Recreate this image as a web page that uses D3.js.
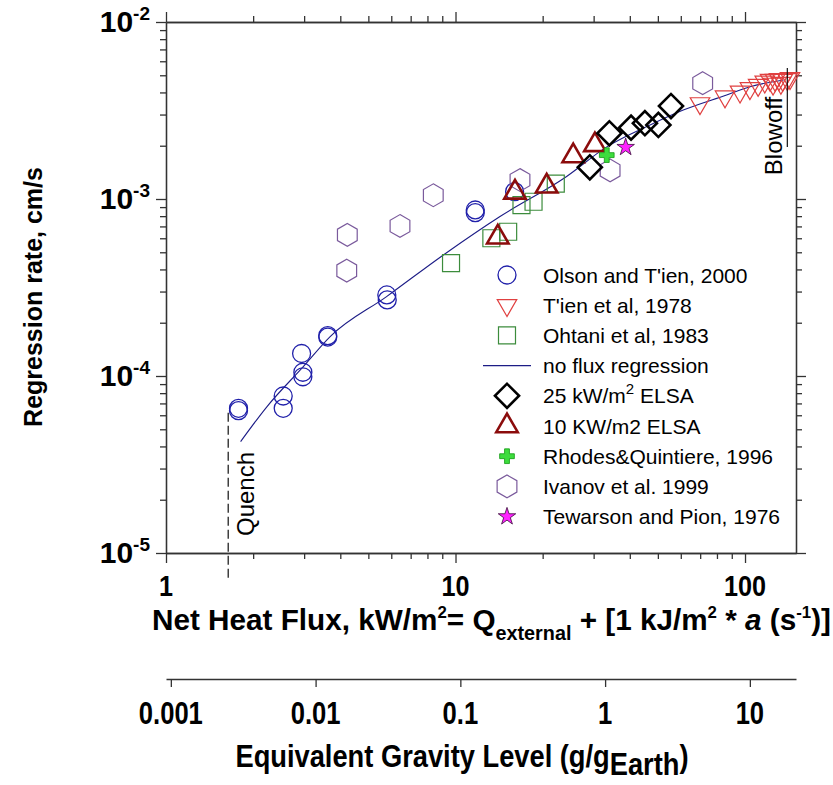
<!DOCTYPE html>
<meta charset="utf-8">
<style>
    body { margin: 0; background: #fff; }
    text { font-family: "Liberation Sans", Arial, sans-serif; }
    .big { font-weight: bold; }
    .axis path, .axis line { stroke: #333; stroke-width: 1.3px; }
</style>
<svg width="833" height="785"></svg>
<script src="https://d3js.org/d3.v7.min.js"></script>
<script>
    // net heat flux (kW/m2) and regression rate (cm/s)
    var olsonFlux = [1.78, 1.78, 2.54, 2.54, 2.94, 2.97, 2.97, 3.62, 3.62, 5.79, 5.81, 11.7, 11.7, 16.0];
    var olsonRate = [6.57e-5, 6.37e-5, 7.71e-5, 6.57e-5, 1.34e-4, 1.05e-4, 9.9e-5, 1.69e-4, 1.66e-4, 2.87e-4, 2.69e-4, 8.67e-4, 8.37e-4, 1.10e-3];

    var tienFlux = [69.9, 85.3, 96.1, 104, 111, 117, 122, 125, 127, 131, 133, 135, 140, 143];
    var tienRate = [3.47e-3, 3.79e-3, 4.04e-3, 4.22e-3, 4.40e-3, 4.60e-3, 4.70e-3, 4.47e-3, 4.70e-3, 4.75e-3, 4.52e-3, 4.70e-3, 4.75e-3, 4.81e-3];

    var ohtaniFlux = [9.65, 13.3, 15.2, 16.9, 18.6, 22.2];
    var ohtaniRate = [4.34e-4, 6.0e-4, 6.53e-4, 9.24e-4, 9.65e-4, 1.22e-3];

    var fitFlux = [1.81, 2.23, 2.98, 3.69, 5.78, 9.08, 14.2, 24.2, 33.3, 47.0, 61.2, 86.4, 104, 136];
    var fitRate = [4.26e-5, 6.7e-5, 1.13e-4, 1.67e-4, 2.81e-4, 4.83e-4, 7.94e-4, 1.34e-3, 1.97e-3, 2.62e-3, 3.18e-3, 3.87e-3, 4.31e-3, 4.70e-3];

    var elsa25Flux = [29.1, 34.0, 40.4, 45.1, 50.2, 55.5];
    var elsa25Rate = [1.51e-3, 2.35e-3, 2.53e-3, 2.68e-3, 2.62e-3, 3.35e-3];

    var elsa10Flux = [14.0, 16.05, 20.65, 25.5, 30.3];
    var elsa10Rate = [6.08e-4, 1.09e-3, 1.18e-3, 1.75e-3, 2.02e-3];

    var rhodesFlux = [33.3];
    var rhodesRate = [1.77e-3];

    var ivanovFlux = [4.21, 4.23, 6.43, 8.38, 16.7, 34.2, 71.4];
    var ivanovRate = [3.94e-4, 6.27e-4, 7.04e-4, 1.05e-3, 1.28e-3, 1.45e-3, 4.51e-3];

    var tewarsonFlux = [38.7];
    var tewarsonRate = [1.96e-3];

    var quenchFlux = 1.64;
    var quenchRate = [6.2e-5, 7.2e-6];
    var blowoffFlux = 140;
    var blowoffRate = [5.5e-3, 1.97e-3];

    var xTicks = [1, 10, 100];
    var yTicks = [1e-5, 1e-4, 1e-3, 1e-2];
    var yTickExp = ["-5", "-4", "-3", "-2"];
    var gTicks = [0.001, 0.01, 0.1, 1, 10];
    var gTickLabels = ["0.001", "0.01", "0.1", "1", "10"];

    var legendNames = ["Olson and T'ien, 2000", "T'ien et al, 1978", "Ohtani et al, 1983", "no flux regression",
        "25 kW/m2 ELSA", "10 KW/m2 ELSA", "Rhodes&Quintiere, 1996", "Ivanov et al. 1999", "Tewarson and Pion, 1976"];

    var plotLeft = 166, plotRight = 796, plotTop = 22, plotBottom = 553;

    var svg = d3.select("svg");
    svg.append("rect").attr("width", 833).attr("height", 785).attr("fill", "#fff");

    var x = d3.scaleLog().domain([1, 150]).range([plotLeft, plotRight]);
    var y = d3.scaleLog().domain([1e-5, 1e-2]).range([plotBottom, plotTop]);
    // gravity level scales with flux squared
    var g = d3.scaleLog().domain([1 / 1080, 150 * 150 / 1080]).range([plotLeft, plotRight]);

    function minors(lo, hi) {
        var out = [];
        for (var e = lo; e < hi; e++)
            for (var m = 2; m < 10; m++) out.push(m * Math.pow(10, e));
        return out;
    }
    var xMinor = minors(0, 3).filter(function (v) { return v <= 150; });
    var yMinor = minors(-5, -2);

    function drawAxis(axisFn, scale, transform, major, minor) {
        var a = svg.append("g").attr("class", "axis").attr("transform", transform);
        a.call(axisFn(scale).tickValues(minor).tickSize(6).tickSizeOuter(0).tickFormat(""));
        a.append("g").call(axisFn(scale).tickValues(major).tickSize(10).tickSizeOuter(0).tickFormat(""));
    }
    drawAxis(d3.axisBottom, x, "translate(0," + plotBottom + ")", xTicks, xMinor);
    drawAxis(d3.axisTop, x, "translate(0," + plotTop + ")", xTicks, xMinor);
    drawAxis(d3.axisLeft, y, "translate(" + plotLeft + ",0)", yTicks, yMinor);
    drawAxis(d3.axisRight, y, "translate(" + plotRight + ",0)", yTicks, yMinor);

    // y tick labels 10^n
    var yl = svg.append("g").selectAll("text").data(yTicks).enter().append("text")
        .attr("x", 150).attr("y", function (d) { return y(d) + 10; })
        .attr("text-anchor", "end")
        .style("font-weight", "bold").style("font-size", "30px");
    yl.append("tspan").text("10");
    yl.append("tspan").attr("dy", -12).style("font-size", "19px")
        .text(function (d, i) { return yTickExp[i]; });

    // condensed bold text: squeeze horizontally
    function narrowText(px, py, size, sx, anchor) {
        return svg.append("text").attr("class", "big")
            .attr("transform", "translate(" + px + "," + py + ") scale(" + sx + ",1)")
            .attr("text-anchor", anchor).style("font-size", size + "px");
    }

    xTicks.forEach(function (d) {
        narrowText(x(d), 596, 30, 0.84, "middle").text(d);
    });

    var xt = narrowText(152, 630, 30, 0.99, "start");
    xt.append("tspan").text("Net Heat Flux, kW/m");
    xt.append("tspan").attr("dy", -12).style("font-size", "17px").text("2");
    xt.append("tspan").attr("dy", 12).text("= Q");
    xt.append("tspan").attr("dy", 10).style("font-size", "20px").text("external");
    xt.append("tspan").attr("dy", -10).text(" + [1 kJ/m");
    xt.append("tspan").attr("dy", -12).style("font-size", "17px").text("2");
    xt.append("tspan").attr("dy", 12).text(" * ");
    xt.append("tspan").style("font-style", "italic").text("a");
    xt.append("tspan").text(" (s");
    xt.append("tspan").attr("dy", -12).style("font-size", "17px").text("-1");
    xt.append("tspan").attr("dy", 12).text(")]");

    // gravity axis
    svg.append("g").attr("class", "axis").attr("transform", "translate(0,679)")
        .call(d3.axisBottom(g).tickValues(gTicks).tickSize(8).tickSizeOuter(0).tickFormat(""));
    gTicks.forEach(function (d, i) {
        narrowText(g(d), 724, 32, 0.8, "middle").text(gTickLabels[i]);
    });

    var gt = narrowText(462, 767, 31, 0.88, "middle");
    gt.append("tspan").text("Equivalent Gravity Level (g/g");
    gt.append("tspan").attr("dy", 8).text("Earth");
    gt.append("tspan").attr("dy", -8).text(")");

    // y title
    svg.append("text")
        .attr("transform", "translate(42,297) rotate(-90)")
        .attr("text-anchor", "middle")
        .style("font-weight", "bold").style("font-size", "25px")
        .text("Regression rate, cm/s");

    // symbols
    var hexagon = {
        draw: function (ctx, size) {
            var r = Math.sqrt(size);
            for (var i = 0; i < 6; i++) {
                var a = (-90 + 60 * i) * Math.PI / 180;
                if (i == 0) ctx.moveTo(r * Math.cos(a), r * Math.sin(a));
                else ctx.lineTo(r * Math.cos(a), r * Math.sin(a));
            }
            ctx.closePath();
        }
    };

    var styles = [
        { type: d3.symbolCircle, size: 254, stroke: "#2020aa", fill: "none", width: 1.3, rot: 0 },
        { type: d3.symbolTriangle, size: 165, stroke: "#e04040", fill: "none", width: 1.2, rot: 180 },
        { type: d3.symbolSquare, size: 289, stroke: "#3c8c3c", fill: "none", width: 1.2, rot: 0 },
        null,
        { type: d3.symbolSquare, size: 290, stroke: "#000", fill: "none", width: 2.6, rot: 45 },
        { type: d3.symbolTriangle, size: 200, stroke: "#8b0c0c", fill: "none", width: 2.6, rot: 0 },
        { type: d3.symbolCross, size: 120, stroke: "#139a13", fill: "#3ddc3d", width: 0.8, rot: 0 },
        { type: hexagon, size: 130, stroke: "#7a5a9c", fill: "none", width: 1.2, rot: 0 },
        { type: d3.symbolStar, size: 95, stroke: "#3a0a3a", fill: "#ff22ff", width: 0.8, rot: 0 }
    ];

    var series = [
        [olsonFlux, olsonRate, 0], [ohtaniFlux, ohtaniRate, 2], [ivanovFlux, ivanovRate, 7],
        [tienFlux, tienRate, 1], [elsa10Flux, elsa10Rate, 5], [elsa25Flux, elsa25Rate, 4],
        [rhodesFlux, rhodesRate, 6], [tewarsonFlux, tewarsonRate, 8]
    ];

    function place(sel, st) {
        sel.attr("d", d3.symbol().type(st.type).size(st.size))
            .attr("fill", st.fill).attr("stroke", st.stroke).attr("stroke-width", st.width);
    }

    // no flux regression line
    var line = d3.line()
        .x(function (d) { return x(d[0]); })
        .y(function (d) { return y(d[1]); })
        .curve(d3.curveMonotoneX);
    svg.append("path")
        .datum(d3.zip(fitFlux, fitRate))
        .attr("d", line)
        .attr("fill", "none").attr("stroke", "#1c1c86").attr("stroke-width", 1.1);

    series.forEach(function (s) {
        var st = styles[s[2]];
        svg.append("g").selectAll("path").data(d3.zip(s[0], s[1])).enter().append("path")
            .attr("transform", function (d) {
                return "translate(" + x(d[0]) + "," + y(d[1]) + ") rotate(" + st.rot + ")";
            })
            .call(place, st);
    });

    // quench and blowoff limits
    svg.append("line")
        .attr("x1", x(quenchFlux)).attr("x2", x(quenchFlux))
        .attr("y1", y(quenchRate[0])).attr("y2", y(quenchRate[1]))
        .attr("stroke", "#111").attr("stroke-width", 1.2).attr("stroke-dasharray", "9,4");
    svg.append("text")
        .attr("transform", "translate(" + (x(quenchFlux) + 26) + ",494) rotate(-90)")
        .attr("text-anchor", "middle").style("font-size", "24px")
        .text("Quench");

    svg.append("line")
        .attr("x1", x(blowoffFlux)).attr("x2", x(blowoffFlux))
        .attr("y1", y(blowoffRate[0])).attr("y2", y(blowoffRate[1]))
        .attr("stroke", "#111").attr("stroke-width", 1.2);
    svg.append("text")
        .attr("transform", "translate(" + (x(blowoffFlux) - 5) + ",136) rotate(-90)")
        .attr("text-anchor", "middle").style("font-size", "24px")
        .text("Blowoff");

    // legend
    var legend = svg.append("g");
    legendNames.forEach(function (name, i) {
        var ly = 275 + i * 30.2;
        var st = styles[i];
        if (st) {
            legend.append("path")
                .attr("transform", "translate(507," + ly + ") rotate(" + st.rot + ")")
                .call(place, st);
        } else {
            legend.append("line").attr("x1", 483).attr("x2", 531).attr("y1", ly).attr("y2", ly)
                .attr("stroke", "#1c1c86").attr("stroke-width", 1.1);
        }
        var t = legend.append("text").attr("x", 543).attr("y", ly + 7.5).style("font-size", "21px");
        if (i == 4) {
            t.append("tspan").text("25 kW/m");
            t.append("tspan").attr("dy", -9).style("font-size", "15px").text("2");
            t.append("tspan").attr("dy", 9).text(" ELSA");
        } else {
            t.text(name);
        }
    });
</script>
